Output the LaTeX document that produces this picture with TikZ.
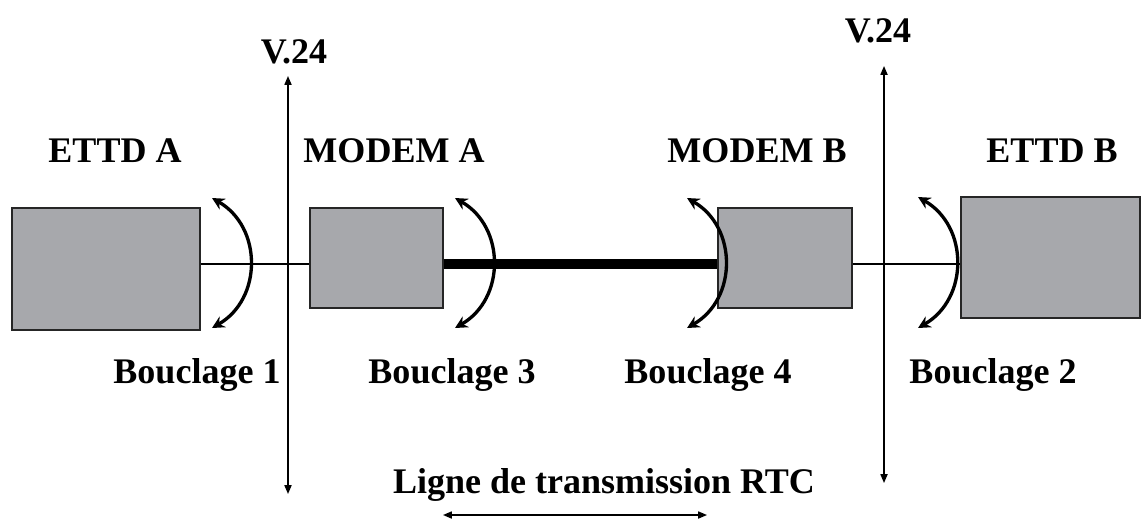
\documentclass[tikz,border=0pt]{standalone}
\usepackage{fontspec}
\setmainfont{Liberation Serif}
\usetikzlibrary{arrows.meta}
\definecolor{boitegris}{RGB}{167,168,172}

\begin{document}
\begin{tikzpicture}[
  x=0.02cm, y=-0.02cm,
  every node/.style={font=\bfseries\fontsize{20.5}{24}\selectfont, inner sep=0pt},
  equip/.style={draw=black!85, line width=0.75pt, fill=boitegris, inner sep=0pt},
  fil/.style={line width=0.7pt},
  rtc/.style={line width=5.7pt},
  interface/.style={line width=0.85pt, {Triangle[length=5pt,width=4pt]}-{Triangle[length=5pt,width=4pt]}},
  boucle/.style={line width=1.9pt, {Stealth[length=7pt,width=7pt]}-{Stealth[length=7pt,width=7pt]}, bend left=60, looseness=1.15}
]
  \useasboundingbox (0,0) rectangle (1141,518);

  % Boxes
  \node[equip, minimum width=3.76cm, minimum height=2.44cm] (eA) at (106,269) {};
  \node[equip, minimum width=2.66cm, minimum height=2.0cm] (mA) at (376.5,258) {};
  \node[equip, minimum width=2.68cm, minimum height=2.0cm] (mB) at (785,258) {};
  \node[equip, minimum width=3.58cm, minimum height=2.42cm] (eB) at (1050.5,257.5) {};

  % Titles
  \node[anchor=base] (tA) at (115,162) {ETTD A};
  \node[anchor=base] (tmA) at (394,162) {MODEM A};
  \node[anchor=base] (tmB) at (757,162) {MODEM B};
  \node[anchor=base] (tB) at (1052,162) {ETTD B};

  % Lines between the boxes
  \coordinate (ligne) at (0,264);
  \draw[fil] (eA.east |- ligne) -- (mA.west |- ligne);
  \draw[rtc] (mA.east |- ligne) -- (mB.west |- ligne);
  \draw[fil] (mB.east |- ligne) -- (eB.west |- ligne);

  % V.24 interfaces
  \node[anchor=base] (v1) at (294,63) {V.24};
  \node[anchor=base] (v2) at (878,42) {V.24};
  \coordinate (v1haut) at (288,76);
  \coordinate (v1bas) at (288,494);
  \coordinate (v2haut) at (884,66);
  \coordinate (v2bas) at (884,483);
  \draw[interface] (v1haut) -- (v1bas);
  \draw[interface] (v2haut) -- (v2bas);

  % Loops
  \coordinate (b1h) at (212,198); \coordinate (b1b) at (212,328);
  \coordinate (b3h) at (455,198); \coordinate (b3b) at (455,328);
  \coordinate (b4h) at (687,198); \coordinate (b4b) at (687,328);
  \coordinate (b2h) at (918,197); \coordinate (b2b) at (918,328);
  \draw[boucle] (b1h) to (b1b);
  \draw[boucle] (b3h) to (b3b);
  \draw[boucle] (b4h) to (b4b);
  \draw[boucle] (b2h) to (b2b);

  \node[anchor=base] (l1) at (197,383) {Bouclage 1};
  \node[anchor=base] (l3) at (452,383) {Bouclage 3};
  \node[anchor=base] (l4) at (708,383) {Bouclage 4};
  \node[anchor=base] (l2) at (993,383) {Bouclage 2};

  % Transmission line
  \node[anchor=base] (rtcnom) at (604,493) {Ligne de transmission RTC};
  \coordinate (rtcg) at (443,515);
  \coordinate (rtcd) at (707,515);
  \draw[interface] (rtcg) -- (rtcd);

\end{tikzpicture}
\end{document}
